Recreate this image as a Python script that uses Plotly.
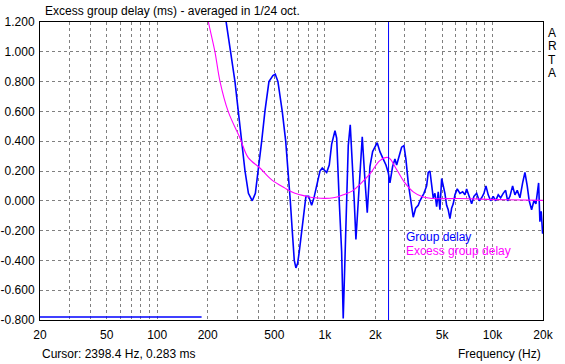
import plotly.graph_objects as go

# ---- data ----
gd_freq = [20, 184, None,
           250, 257, 274, 291, 304, 319, 334, 350, 369, 385, 401, 420, 439, 464, 490, 506, 525,
           557, 584, 605, 622, 639, 657, 672, 688, 704, 727, 750, 771, 800, 834, 861, 893, 935,
           965, 1000, 1025, 1062, 1098, 1149, 1176, 1218, 1259, 1287, 1317, 1349, 1379, 1417,
           1464, 1497, 1532, 1581, 1634, 1671, 1734, 1790, 1857, 1927, 2052, 2130, 2230, 2314,
           2388, 2444, 2536, 2618, 2680, 2778, 2870, 2962, 3044, 3142, 3248, 3366, 3478, 3606,
           3690, 3778, 3898, 4046, 4136, 4234, 4332, 4430, 4534, 4642, 4744, 4856, 4972, 5082,
           5200, 5324, 5442, 5572, 5702, 5830, 5968, 6160, 6392, 6634, 6846, 7008, 7262, 7506,
           7746, 8038, 8330, 8610, 8886, 9134, 9426, 9742, 10098, 10436, 10814, 11176, 11582,
           11970, 12304, 12698, 13178, 13600, 14040, 14570, 15120, 15604, 16104, 16550, 17104,
           17652, 18146, 18472, 18832, 19168, 19514, 19892, 20000]
gd_ms = [-0.78, -0.78, None,
         1.30, 1.20, 1.00, 0.80, 0.60, 0.40, 0.20, 0.05, 0.00, 0.05, 0.20, 0.40, 0.60, 0.80, 0.84, 0.85, 0.80,
         0.60, 0.40, 0.20, 0.00, -0.20, -0.40, -0.45, -0.42, -0.34, -0.20, -0.06, 0.03, 0.03, -0.03, 0.02, 0.10, 0.20,
         0.22, 0.20, 0.19, 0.24, 0.38, 0.47, 0.42, 0.00, -0.34, -0.79, -0.45, 0.00, 0.37, 0.51,
         0.23, 0.00, -0.26, 0.00, 0.33, 0.43, 0.14, -0.08, 0.23, 0.33, 0.39, 0.33, 0.28, 0.24,
         0.19, 0.12, 0.23, 0.28, 0.24, 0.30, 0.36, 0.37, 0.28, 0.12, 0.00, -0.11, -0.05, -0.03,
         0.00, 0.02, 0.05, 0.10, 0.19, 0.20, 0.12, 0.02, 0.05, -0.04, 0.06, -0.06, 0.15, 0.10,
         0.05, -0.03, -0.06, -0.12, -0.05, -0.02, 0.04, 0.08, 0.05, 0.06, 0.04, 0.08, 0.02, -0.02,
         0.03, 0.05, 0.00, 0.02, 0.05, 0.10, 0.04, 0.00, 0.03, 0.00, 0.04, 0.02, 0.05,
         0.07, 0.00, 0.03, 0.10, 0.04, 0.07, 0.02, 0.12, 0.19, 0.10, 0.00, -0.06,
         0.00, -0.02, 0.05, 0.12, -0.14, -0.07, -0.22, -0.20]

egd_freq = [190, 202, 221, 237, 265, 312, 349, 410, 482, 578, 663, 779, 873, 1122, 1287, 1477,
            1619, 1857, 2130, 2388, 2680, 3004, 3366, 3860, 4430, 6392, 11000, 20000]
egd_ms = [1.35, 1.20, 1.00, 0.80, 0.60, 0.42, 0.29, 0.22, 0.14, 0.085, 0.05, 0.03, 0.02, 0.02, 0.04, 0.07,
          0.11, 0.18, 0.27, 0.29, 0.21, 0.12, 0.06, 0.025, 0.015, 0.015, 0.008, 0.003]

cursor_freq = 2398.4
cursor_ms = 0.283

x_grid = [20, 30, 40, 50, 60, 70, 80, 90, 100, 200, 300, 400, 500, 600, 700, 800, 900,
          1000, 2000, 3000, 4000, 5000, 6000, 7000, 8000, 9000, 10000, 20000]
x_labels = {20: "20", 50: "50", 100: "100", 200: "200", 500: "500", 1000: "1k",
            2000: "2k", 5000: "5k", 10000: "10k", 20000: "20k"}
y_ticks = [-0.8, -0.6, -0.4, -0.2, 0.0, 0.2, 0.4, 0.6, 0.8, 1.0, 1.2]

title_text = "Excess group delay (ms) - averaged in 1/24 oct."
cursor_text = f"Cursor: {cursor_freq} Hz, {cursor_ms:.3f} ms"

FONT = "Liberation Sans, Arial, sans-serif"
BLUE = "#0000ff"
MAG = "#ff00ff"

fig = go.Figure()
fig.add_trace(go.Scatter(x=gd_freq, y=gd_ms, mode="lines", line=dict(color=BLUE, width=1.6),
                         connectgaps=False, showlegend=False, hoverinfo="skip"))
fig.add_trace(go.Scatter(x=egd_freq, y=egd_ms, mode="lines", line=dict(color=MAG, width=1.1, shape="spline"),
                         showlegend=False, hoverinfo="skip"))
fig.add_trace(go.Scatter(x=[cursor_freq, cursor_freq], y=[-0.8, 1.2], mode="lines",
                         line=dict(color=BLUE, width=1), showlegend=False, hoverinfo="skip"))

L, R, T, B = 40, 22, 22, 44
W, H = 565, 364
pw, ph = W - L - R, H - T - B

def px(x):
    return (x - L) / pw

def py(y):
    return (H - B - y) / ph

annotations = [
    dict(text=title_text, x=px(43), y=py(11), xanchor="left", yanchor="middle"),
    dict(text=cursor_text, x=px(40), y=py(354), xanchor="left", yanchor="middle"),
    dict(text="Frequency (Hz)", x=px(543), y=py(354), xanchor="right", yanchor="middle"),
    dict(text="Group delay", x=px(404), y=py(237), xanchor="left", yanchor="middle",
         font=dict(color=BLUE, size=12, family=FONT)),
    dict(text="Excess group delay", x=px(404), y=py(251), xanchor="left", yanchor="middle",
         font=dict(color=MAG, size=12, family=FONT)),
]
for i, ch in enumerate("ARTA"):
    annotations.append(dict(text=ch, x=px(552), y=py(33 + 13.3 * i), xanchor="center", yanchor="middle"))

for a in annotations:
    a.update(xref="paper", yref="paper", showarrow=False)
    a.setdefault("font", dict(color="black", size=12, family=FONT))

fig.update_layout(
    width=W, height=H,
    margin=dict(l=L, r=R, t=T, b=B, pad=0, autoexpand=False),
    paper_bgcolor="white", plot_bgcolor="white",
    font=dict(family=FONT, size=12, color="black"),
    annotations=annotations,
    xaxis=dict(type="log", range=[1.30103, 4.30103], tickmode="array", tickvals=x_grid,
               ticktext=[x_labels.get(v, "") for v in x_grid], automargin=False,
               showgrid=True, gridcolor="#808080", gridwidth=1, griddash="3px,3px",
               showline=True, linecolor="black", linewidth=1, mirror=True,
               ticks="", zeroline=False, ticklabelstandoff=4,
               tickfont=dict(size=12, family=FONT, color="black")),
    yaxis=dict(range=[-0.8, 1.2], tickmode="array", tickvals=y_ticks,
               ticktext=[f"{v:.3f}" for v in y_ticks], automargin=False,
               showgrid=True, gridcolor="#808080", gridwidth=1, griddash="3px,3px",
               showline=True, linecolor="black", linewidth=1, mirror=True,
               ticks="", zeroline=False, ticklabelstandoff=2,
               tickfont=dict(size=12, family=FONT, color="black")),
)

fig.write_html("out.html", config={"displayModeBar": False},
               post_script="document.body.style.margin='0';document.body.style.overflow='hidden';")
